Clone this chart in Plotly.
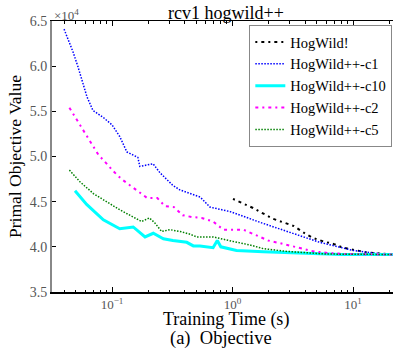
import plotly.graph_objects as go

# ---- data (objective values in units of 1e4) ----
hw_t = [1.01, 1.48, 2.17, 2.67, 3.24, 3.87, 4.63, 5.67, 6.96, 8.3, 10.4, 12.8, 15.7, 19.0, 21.5]
hw_v = [4.53, 4.43, 4.31, 4.27, 4.23, 4.16, 4.10, 4.06, 4.03, 3.99, 3.96, 3.94, 3.93, 3.92, 3.915]

c1_t = [0.040, 0.0474, 0.052, 0.062, 0.0695, 0.085, 0.10, 0.116, 0.133, 0.164, 0.17, 0.219, 0.25, 0.32,
        0.366, 0.54, 0.65, 0.955, 1.79, 2.48, 3.5, 5.3, 10.0, 15.0, 21.5]
c1_v = [6.41, 6.16, 6.00, 5.66, 5.51, 5.43, 5.35, 5.22, 5.05, 4.99, 4.89, 4.92, 4.82, 4.68,
        4.63, 4.55, 4.44, 4.39, 4.26, 4.20, 4.13, 4.05, 3.96, 3.93, 3.915]

c10_t = [0.0493, 0.0616, 0.0847, 0.116, 0.150, 0.188, 0.22, 0.267, 0.32, 0.367, 0.417, 0.473, 0.537,
         0.69, 0.748, 0.80, 1.08, 1.80, 3.4, 8.0, 21.5]
c10_v = [4.62, 4.47, 4.30, 4.20, 4.22, 4.11, 4.15, 4.09, 4.07, 4.06, 4.05, 4.01, 4.01,
         3.99, 4.07, 4.00, 3.96, 3.945, 3.93, 3.915, 3.915]

c2_t = [0.0443, 0.0493, 0.0553, 0.0616, 0.069, 0.077, 0.089, 0.102, 0.12, 0.141, 0.169, 0.196, 0.238,
        0.275, 0.327, 0.386, 0.458, 0.555, 0.69, 0.84, 1.23, 1.58, 1.98, 2.48, 3.87, 4.7, 6.44, 8.9, 21.5]
c2_v = [5.54, 5.44, 5.33, 5.23, 5.13, 5.02, 4.93, 4.84, 4.75, 4.68, 4.61, 4.54, 4.54,
        4.45, 4.44, 4.35, 4.33, 4.32, 4.28, 4.19, 4.19, 4.13, 4.07, 4.04, 3.98, 3.95, 3.93, 3.92, 3.915]

c5_t = [0.0443, 0.0542, 0.070, 0.090, 0.116, 0.150, 0.176, 0.204, 0.225, 0.258, 0.303, 0.367, 0.444,
        0.504, 0.69, 1.01, 1.40, 1.8, 2.8, 6.0, 21.5]
c5_v = [4.85, 4.72, 4.59, 4.50, 4.41, 4.33, 4.28, 4.32, 4.27, 4.17, 4.19, 4.17, 4.14,
        4.11, 4.11, 4.06, 4.02, 3.98, 3.95, 3.92, 3.915]

x_major = [0.1, 1, 10]
x_major_text = ["10<sup>\u22121</sup>", "10<sup>0</sup>", "10<sup>1</sup>"]
y_ticks = [3.5, 4.0, 4.5, 5.0, 5.5, 6.0, 6.5]
y_text = ["3.5", "4.0", "4.5", "5.0", "5.5", "6.0", "6.5"]

FONT = "Liberation Serif"

fig = go.Figure()
series = [
    ("HogWild!", hw_t, hw_v, "black", "2px,4px,3px,4px", 2),
    ("HogWild++-c1", c1_t, c1_v, "blue", "1.5px,1.5px", 1.5),
    ("HogWild++-c10", c10_t, c10_v, "cyan", "solid", 3),
    ("HogWild++-c2", c2_t, c2_v, "magenta", "3px,4px,2px,4px", 2),
    ("HogWild++-c5", c5_t, c5_v, "green", "1.5px,1.5px", 1.5),
]
for name, t, v, col, dash, w in series:
    fig.add_trace(go.Scatter(x=t, y=v, mode="lines", name=name,
                             line=dict(color=col, dash=dash, width=w)))

# invisible trace for top mirrored axis
fig.add_trace(go.Scatter(x=[1], y=[5], xaxis="x2", mode="markers",
                         marker=dict(opacity=0), showlegend=False, hoverinfo="skip"))

minor_vals = []
for d in [0.01, 0.1, 1, 10]:
    for k in range(2, 10):
        minor_vals.append(k * d)

xr = [-1.498, 1.332]
fig.update_layout(
    width=396, height=350,
    margin=dict(l=52, r=3, t=21, b=58, autoexpand=False),
    paper_bgcolor="white", plot_bgcolor="white",
    font=dict(family=FONT, color="black", size=14),
    showlegend=True,
    legend=dict(x=0.998, y=0.985, xanchor="right", yanchor="top",
                bordercolor="#888", borderwidth=1, bgcolor="white",
                font=dict(size=14.5, family=FONT), tracegroupgap=0, itemwidth=30),
    xaxis=dict(type="log", range=xr, showgrid=False, zeroline=False, automargin=False,
               showline=True, linecolor="black", linewidth=1.5,
               ticks="inside", ticklen=5, tickcolor="black",
               tickvals=x_major, ticktext=x_major_text,
               tickfont=dict(size=13, color="#555", family=FONT),
               minor=dict(ticks="inside", ticklen=2.5, tickcolor="black", tickvals=minor_vals)),
    xaxis2=dict(type="log", range=xr, overlaying="x", side="top", showgrid=False, zeroline=False,
                automargin=False,
                showline=True, linecolor="black", linewidth=1,
                ticks="inside", ticklen=5, tickcolor="black",
                tickvals=x_major, showticklabels=False,
                minor=dict(ticks="inside", ticklen=2.5, tickcolor="black", tickvals=minor_vals)),
    yaxis=dict(range=[3.5, 6.5], showgrid=False, zeroline=False, automargin=False,
               showline=True, linecolor="#888", linewidth=2,
               ticks="inside", ticklen=4, tickcolor="black",
               tickvals=y_ticks, ticktext=y_text,
               tickfont=dict(size=14, color="#555", family=FONT),
               title=dict(text="Primal Objective Value", standoff=4,
                          font=dict(size=17.5, family=FONT))),
)
fig.add_annotation(text="\u00d710<sup>4</sup>", xref="paper", yref="paper",
                   x=0.0, y=1.0, xanchor="left", yanchor="bottom", showarrow=False,
                   font=dict(size=13, color="#555", family=FONT), yshift=-4)
fig.add_annotation(text="rcv1 hogwild++", xref="paper", yref="paper",
                   x=0.51, y=1.03, xanchor="center", yanchor="middle", showarrow=False,
                   font=dict(size=18, color="black", family=FONT))
fig.add_annotation(text="Training Time (s)", xref="paper", yref="paper",
                   x=0.51, y=-0.1, xanchor="center", yanchor="middle", showarrow=False,
                   font=dict(size=18, color="black", family=FONT))
fig.add_annotation(text="(a)  Objective", xref="paper", yref="paper",
                   x=0.495, y=-0.172, xanchor="center", yanchor="middle", showarrow=False,
                   font=dict(size=18.5, color="black", family=FONT))

fig.write_html("out.html")
